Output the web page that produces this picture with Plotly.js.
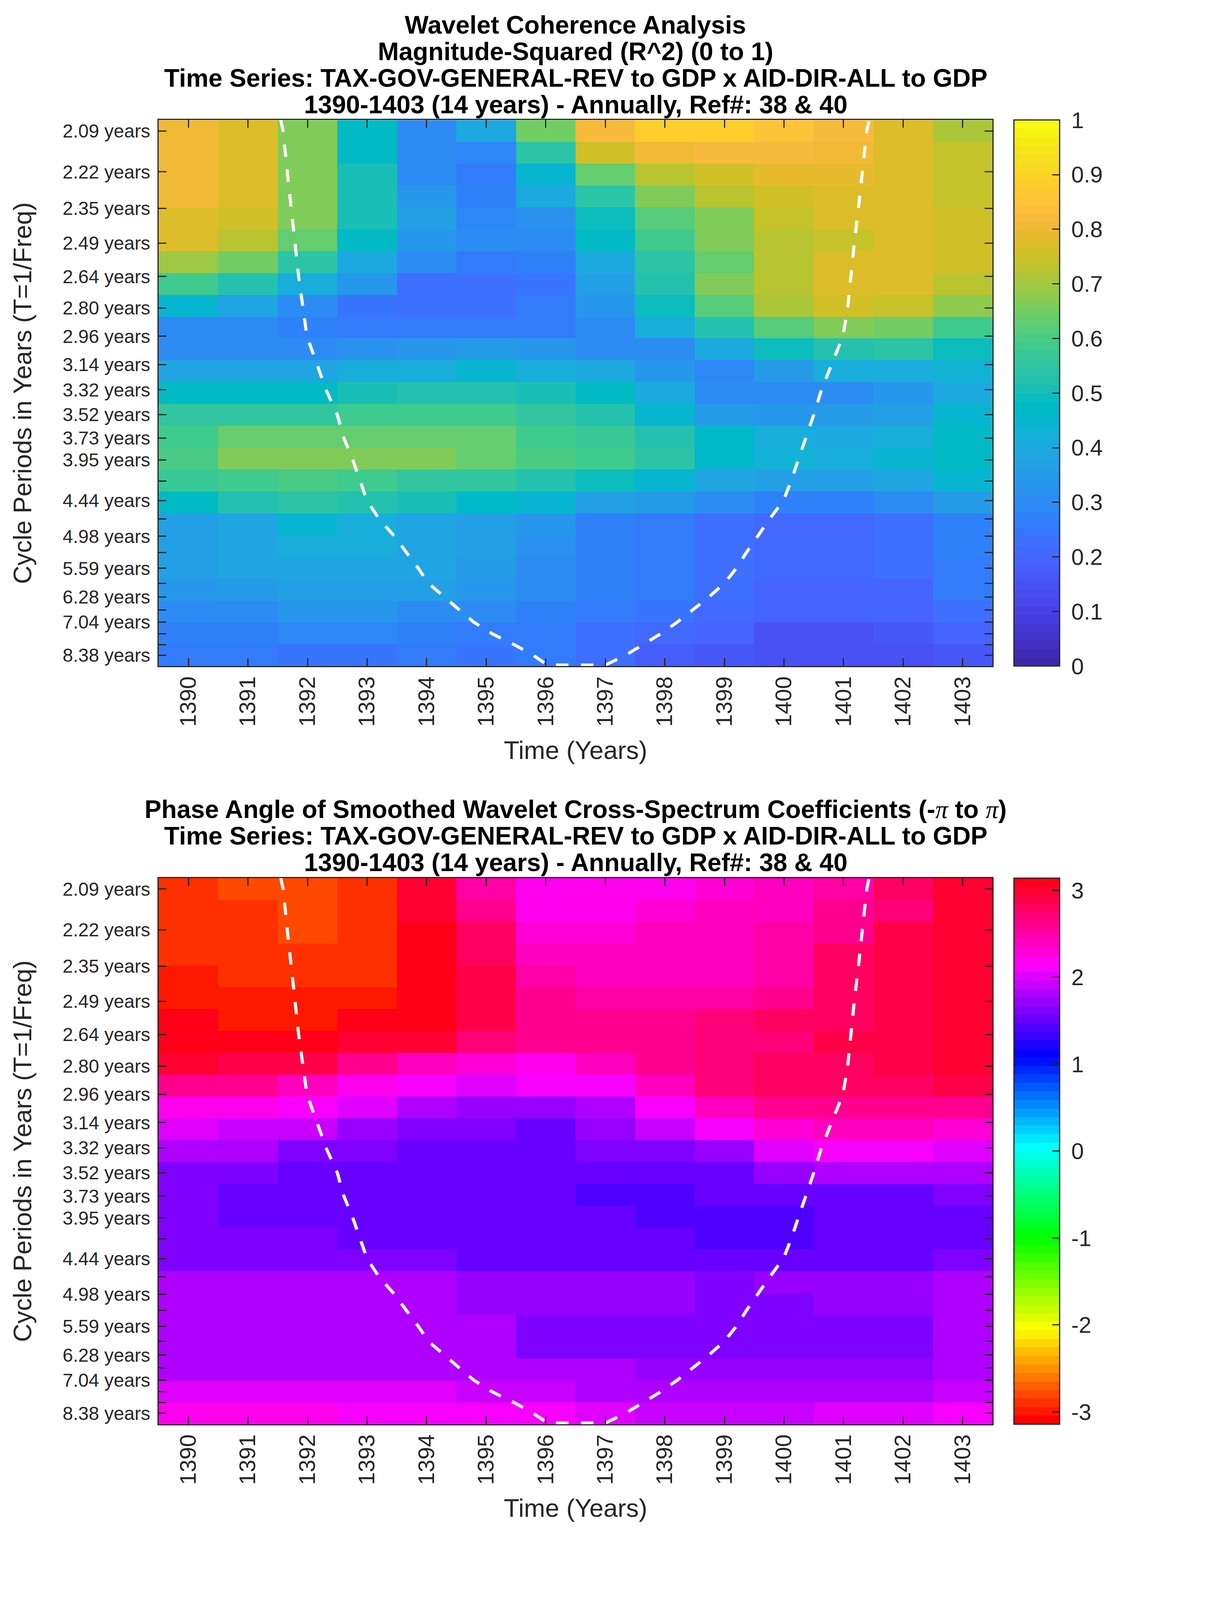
<!DOCTYPE html>
<html>
<head>
<meta charset="utf-8">
<title>Wavelet Coherence</title>
<script src="https://cdn.plot.ly/plotly-3.0.1.min.js"></script>
<style>body{margin:0;background:#fff}</style>
</head>
<body>
<div id="plot"></div>
<script>
// years along x, cycle periods down y (row 1 = shortest period)
var years = [1390,1391,1392,1393,1394,1395,1396,1397,1398,1399,1400,1401,1402,1403];
var periods = [2.09,2.22,2.35,2.49,2.64,2.80,2.96,3.14,3.32,3.52,3.73,3.95,4.19,4.44,4.70,4.98,5.27,5.59,5.93,6.28,6.65,7.04,7.46,7.90,8.38];
var periodLabels = ['2.09 years','2.22 years','2.35 years','2.49 years','2.64 years','2.80 years','2.96 years','3.14 years','3.32 years','3.52 years','3.73 years','3.95 years','','4.44 years','','4.98 years','','5.59 years','','6.28 years','','7.04 years','','','8.38 years'];

var coherence = [
  [.80,.77,.66,.48,.30,.40,.65,.82,.88,.88,.85,.82,.78,.71],
  [.80,.77,.66,.47,.30,.29,.54,.75,.80,.82,.82,.81,.78,.74],
  [.80,.77,.66,.50,.31,.26,.45,.64,.73,.76,.79,.79,.77,.74],
  [.80,.77,.66,.51,.34,.28,.40,.54,.66,.72,.76,.78,.78,.74],
  [.78,.76,.66,.50,.36,.29,.32,.49,.61,.67,.74,.77,.78,.76],
  [.77,.72,.63,.48,.33,.30,.31,.47,.59,.67,.72,.74,.77,.76],
  [.70,.65,.54,.40,.30,.25,.27,.40,.54,.64,.72,.77,.77,.755],
  [.58,.53,.42,.33,.23,.22,.24,.37,.53,.66,.72,.77,.77,.72],
  [.45,.38,.31,.24,.22,.22,.25,.33,.49,.62,.71,.76,.74,.68],
  [.31,.30,.27,.25,.25,.25,.26,.31,.41,.53,.62,.67,.65,.58],
  [.30,.30,.30,.32,.34,.35,.33,.30,.31,.40,.49,.53,.54,.49],
  [.39,.39,.39,.41,.41,.44,.42,.40,.33,.29,.35,.41,.42,.43],
  [.47,.48,.48,.51,.53,.53,.50,.47,.40,.31,.30,.31,.34,.40],
  [.55,.55,.55,.58,.58,.58,.56,.52,.45,.35,.33,.35,.37,.45],
  [.59,.63,.63,.63,.63,.63,.59,.57,.52,.46,.41,.40,.42,.47],
  [.60,.66,.66,.66,.66,.64,.60,.58,.54,.46,.43,.41,.45,.47],
  [.57,.58,.60,.58,.56,.55,.52,.49,.45,.39,.37,.37,.38,.44],
  [.48,.52,.54,.53,.51,.46,.45,.37,.35,.31,.28,.28,.30,.35],
  [.36,.38,.44,.41,.39,.37,.33,.28,.26,.23,.21,.21,.23,.27],
  [.36,.38,.41,.41,.39,.36,.32,.28,.26,.23,.21,.21,.23,.27],
  [.36,.38,.39,.39,.38,.35,.31,.27,.26,.23,.21,.21,.23,.26],
  [.33,.35,.37,.37,.36,.34,.30,.27,.25,.22,.20,.19,.20,.25],
  [.30,.31,.33,.33,.31,.30,.28,.26,.24,.21,.19,.19,.19,.23],
  [.27,.28,.29,.29,.28,.26,.25,.23,.21,.19,.15,.15,.17,.20],
  [.25,.25,.24,.24,.25,.24,.25,.22,.18,.16,.15,.15,.15,.17]
];

var phase = [
  [-2.92,-2.82,-2.82,-2.92,2.95,2.50,2.16,2.16,2.20,2.30,2.36,2.55,2.75,3.00],
  [-2.92,-2.88,-2.80,-2.92,3.03,2.62,2.25,2.25,2.33,2.36,2.40,2.56,2.70,2.95],
  [-2.93,-2.93,-2.80,-2.93,3.14,2.75,2.30,2.30,2.36,2.40,2.47,2.60,2.88,2.95],
  [-2.93,-2.93,-2.94,-2.94,3.14,2.82,2.42,2.36,2.38,2.42,2.50,2.75,2.88,2.95],
  [-3.00,-2.94,-2.94,-2.94,3.14,2.88,2.50,2.45,2.45,2.45,2.55,2.75,2.88,2.95],
  [-3.00,-3.03,-3.03,-3.03,3.14,2.85,2.62,2.53,2.53,2.53,2.58,2.75,2.88,2.95],
  [3.14,-3.04,-3.04,3.14,3.05,2.85,2.65,2.58,2.58,2.72,2.75,2.75,2.88,3.00],
  [3.08,3.08,3.08,3.03,2.95,2.70,2.58,2.58,2.58,2.68,2.72,2.88,2.88,3.00],
  [2.95,2.85,2.85,2.65,2.42,2.30,2.20,2.38,2.62,2.72,2.75,2.80,2.88,2.95],
  [2.62,2.62,2.45,2.20,2.10,2.00,2.10,2.10,2.40,2.70,2.78,2.80,2.82,2.85],
  [2.25,2.20,2.15,1.97,1.85,1.75,1.75,1.85,2.15,2.45,2.60,2.62,2.62,2.62],
  [2.00,1.90,1.90,1.75,1.65,1.65,1.55,1.70,1.88,2.15,2.30,2.42,2.42,2.28],
  [1.78,1.78,1.65,1.60,1.55,1.55,1.50,1.58,1.62,1.72,2.05,2.15,2.15,1.97],
  [1.65,1.65,1.55,1.55,1.55,1.50,1.50,1.50,1.50,1.55,1.68,1.80,1.80,1.80],
  [1.62,1.55,1.55,1.55,1.50,1.50,1.50,1.42,1.42,1.50,1.50,1.55,1.55,1.62],
  [1.62,1.52,1.52,1.52,1.55,1.50,1.50,1.50,1.42,1.42,1.42,1.50,1.50,1.55],
  [1.62,1.62,1.62,1.52,1.52,1.52,1.48,1.48,1.48,1.42,1.42,1.48,1.52,1.52],
  [1.62,1.62,1.62,1.62,1.62,1.52,1.52,1.52,1.52,1.48,1.48,1.52,1.52,1.60],
  [1.80,1.80,1.80,1.80,1.80,1.68,1.68,1.68,1.68,1.60,1.70,1.68,1.68,1.78],
  [1.80,1.80,1.80,1.80,1.80,1.68,1.68,1.68,1.68,1.60,1.58,1.68,1.68,1.78],
  [1.80,1.80,1.80,1.80,1.80,1.78,1.65,1.65,1.65,1.58,1.58,1.65,1.65,1.78],
  [1.80,1.80,1.80,1.80,1.80,1.78,1.65,1.65,1.65,1.65,1.65,1.65,1.65,1.78],
  [1.85,1.85,1.85,1.85,1.85,1.80,1.80,1.80,1.68,1.68,1.68,1.68,1.75,1.80],
  [1.97,1.97,1.97,1.97,1.97,1.90,1.90,1.82,1.80,1.80,1.80,1.80,1.80,1.88],
  [2.20,2.20,2.20,2.15,2.12,2.12,2.10,1.97,1.90,1.87,1.87,1.97,1.97,2.10]
];

// cone of influence
var coiYears = [1391.55,1391.59,1391.66,1391.72,1391.79,1391.85,1391.92,1391.99,1392.16,1392.31,1392.50,1392.61,1392.76,1392.89,1393.00,1393.20,1393.46,1393.66,1393.86,1394.03,1394.29,1394.55,1394.79,1395.10,1395.47,1395.79,1396.03,1397.00,1397.34,1397.63,1397.93,1398.21,1398.47,1398.74,1399.00,1399.20,1399.37,1399.55,1399.76,1399.99,1400.12,1400.24,1400.37,1400.50,1400.63,1400.80,1400.99,1401.07,1401.12,1401.18,1401.25,1401.32,1401.39,1401.43];
var coiPeriods = [2.057,2.09,2.22,2.35,2.49,2.64,2.80,2.96,3.14,3.32,3.52,3.73,3.95,4.19,4.44,4.70,4.98,5.27,5.59,5.93,6.28,6.65,7.04,7.46,7.90,8.38,8.88,8.88,8.38,7.90,7.46,7.04,6.65,6.28,5.93,5.59,5.27,4.98,4.70,4.44,4.19,3.95,3.73,3.52,3.32,3.14,2.96,2.80,2.64,2.49,2.35,2.22,2.09,2.057];

var parula = [[.2422,.1504,.6603],[.2504,.1650,.7076],[.2578,.1818,.7511],[.2647,.1978,.7952],[.2706,.2147,.8364],[.2751,.2342,.8710],[.2783,.2559,.8991],[.2803,.2782,.9221],[.2813,.3006,.9414],[.2810,.3228,.9579],[.2795,.3447,.9717],[.2760,.3667,.9829],[.2699,.3892,.9906],[.2602,.4123,.9952],[.2440,.4358,.9988],[.2206,.4603,.9973],[.1963,.4847,.9892],[.1834,.5074,.9798],[.1786,.5289,.9682],[.1764,.5499,.9520],[.1687,.5703,.9359],[.1540,.5902,.9218],[.1460,.6091,.9079],[.1380,.6276,.8973],[.1248,.6459,.8883],[.1113,.6635,.8763],[.0952,.6798,.8598],[.0689,.6948,.8394],[.0297,.7082,.8163],[.0036,.7203,.7917],[.0067,.7312,.7660],[.0433,.7411,.7394],[.0964,.7500,.7120],[.1408,.7584,.6842],[.1717,.7670,.6554],[.1938,.7758,.6251],[.2161,.7843,.5923],[.2470,.7918,.5567],[.2906,.7973,.5188],[.3406,.8008,.4789],[.3909,.8029,.4354],[.4456,.8024,.3909],[.5044,.7993,.3480],[.5616,.7942,.3045],[.6174,.7876,.2612],[.6720,.7793,.2227],[.7242,.7698,.1910],[.7738,.7598,.1646],[.8203,.7498,.1535],[.8634,.7406,.1596],[.9035,.7330,.1774],[.9393,.7288,.2100],[.9728,.7298,.2394],[.9956,.7434,.2371],[.9970,.7659,.2199],[.9952,.7861,.1990],[.9892,.8086,.1706],[.9786,.8310,.1466],[.9676,.8533,.1299],[.9610,.8771,.1139],[.9597,.8998,.0973],[.9626,.9236,.0800],[.9691,.9525,.0654],[.9769,.9839,.0805]];

function steps(colors) {
  var out = [];
  colors.forEach(function (c, i) {
    out.push([i / colors.length, c]);
    out.push([(i + 1) / colors.length, c]);
  });
  return out;
}
var parulaColors = parula.map(function (c) {
  return 'rgb(' + Math.round(c[0] * 255) + ',' + Math.round(c[1] * 255) + ',' + Math.round(c[2] * 255) + ')';
});
var hsvColors = [];
for (var i = 0; i < 64; i++) hsvColors.push('hsl(' + (i / 64 * 360) + ',100%,50%)');

var ink = '#262626';
var font = 'Liberation Sans, Arial, sans-serif';
// geometry is measured on the 6252px tall reference; a shorter window squeezes it vertically
var W = 3125, refH = 6252;
var H = Math.min(refH, window.innerHeight || refH);
var left = 406, right = 2540, cbLeft = 2595, cbWidth = 117;
var panel1 = [469, 2603], panel2 = [3431, 5565];
// labels at 3.73 and 3.95 collide when squeezed
var yTickSize = H < refH ? 48 : 58;

var fTop = 1 / periods[0], fBottom = 1 / periods[periods.length - 1];
var fStep = (fTop - fBottom) / (periods.length - 1);
var yRange = [fBottom - fStep / 2, fTop + fStep / 2];
var freqTicks = periods.map(function (p) { return 1 / p; });
var coiFreq = coiPeriods.map(function (p) { return 1 / p; });

function colorbar(panel, vals) {
  return {
    x: cbLeft / W, xanchor: 'left', xpad: 0,
    y: 1 - panel[1] / refH, yanchor: 'bottom', ypad: 0,
    len: (panel[1] - panel[0]) / refH, lenmode: 'fraction',
    thickness: cbWidth, thicknessmode: 'pixels',
    outlinewidth: 3, outlinecolor: ink,
    ticks: 'inside', ticklen: 20, tickwidth: 3, tickcolor: ink,
    tickmode: 'array', tickvals: vals,
    ticktext: vals.map(function (v) { return '\u00a0' + v; }),
    tickfont: {family: font, size: 58, color: ink}
  };
}
function xAxis(anchor) {
  return {
    anchor: anchor, domain: [left / W, right / W], range: [1389.5, 1403.5],
    tickmode: 'array', tickvals: years, ticktext: years.map(String), tickangle: -90,
    ticks: 'inside', ticklen: 20, tickwidth: 3, tickcolor: ink,
    showline: true, linewidth: 3, linecolor: ink, mirror: 'ticks',
    showgrid: false, zeroline: false,
    tickfont: {family: font, size: 58, color: ink},
    title: {text: 'Time (Years)', font: {family: font, size: 65, color: ink}, standoff: 38}
  };
}
function yAxis(anchor, panel) {
  return {
    anchor: anchor, domain: [1 - panel[1] / refH, 1 - panel[0] / refH], range: yRange,
    tickmode: 'array', tickvals: freqTicks, ticktext: periodLabels, ticklabelstandoff: 9,
    ticks: 'inside', ticklen: 20, tickwidth: 3, tickcolor: ink,
    showline: true, linewidth: 3, linecolor: ink, mirror: 'ticks',
    showgrid: false, zeroline: false,
    tickfont: {family: font, size: yTickSize, color: ink},
    title: {text: 'Cycle Periods in Years (T=1/Freq)', font: {family: font, size: 65, color: ink}, standoff: 12 + (58 - yTickSize) * 4.67}
  };
}
function coi(xa, ya) {
  return {
    type: 'scatter', mode: 'lines', x: coiYears, y: coiFreq, xaxis: xa, yaxis: ya,
    line: {color: '#fff', width: 8, dash: '32px,32px'}, hoverinfo: 'skip', showlegend: false
  };
}

var traces = [
  {type: 'heatmap', z: coherence, x: years, y0: fTop, dy: -fStep, xaxis: 'x', yaxis: 'y',
   zmin: 0, zmax: 1, colorscale: steps(parulaColors),
   colorbar: colorbar(panel1, [0, .1, .2, .3, .4, .5, .6, .7, .8, .9, 1])},
  coi('x', 'y'),
  {type: 'heatmap', z: phase, x: years, y0: fTop, dy: -fStep, xaxis: 'x2', yaxis: 'y2',
   zmin: -Math.PI, zmax: Math.PI, colorscale: steps(hsvColors),
   colorbar: colorbar(panel2, [-3, -2, -1, 0, 1, 2, 3])},
  coi('x2', 'y2')
];

var pi = '<span style="font-family:Liberation Serif;font-weight:normal"><i>π</i></span>';
var seriesLine = 'Time Series: TAX-GOV-GENERAL-REV to GDP x AID-DIR-ALL to GDP';
var dateLine = '1390-1403 (14 years) - Annually, Ref#: 38 &amp; 40';
var titleSize = 64.5;
var lineGap = Math.max(68, 81 * H / refH);

// one annotation per title line, the last baseline sits 17px above the panel
function titleLines(lines, panel) {
  return lines.map(function (text, i) {
    var baseline = panel[0] * H / refH - 17 - (lines.length - 1 - i) * lineGap;
    return {
      text: text, font: {family: font, size: titleSize, color: '#000', weight: 'bold'},
      xref: 'paper', yref: 'paper', x: (left + right) / 2 / W, xanchor: 'center',
      y: 1 - (baseline - 0.3465 * titleSize) / H, yanchor: 'middle', showarrow: false
    };
  });
}

var layout = {
  width: W, height: H, showlegend: false,
  paper_bgcolor: '#fff', plot_bgcolor: '#fff',
  margin: {l: 0, r: 0, t: 0, b: 0},
  font: {family: font, color: ink},
  xaxis: xAxis('y'), yaxis: yAxis('x', panel1),
  xaxis2: xAxis('y2'), yaxis2: yAxis('x2', panel2),
  annotations: titleLines(['Wavelet Coherence Analysis', 'Magnitude-Squared (R^2) (0 to 1)', seriesLine, dateLine], panel1)
    .concat(titleLines(['Phase Angle of Smoothed Wavelet Cross-Spectrum Coefficients (-' + pi + ' to ' + pi + ')', seriesLine, dateLine], panel2))
};

Plotly.newPlot('plot', traces, layout, {displayModeBar: false});
</script>
</body>
</html>
